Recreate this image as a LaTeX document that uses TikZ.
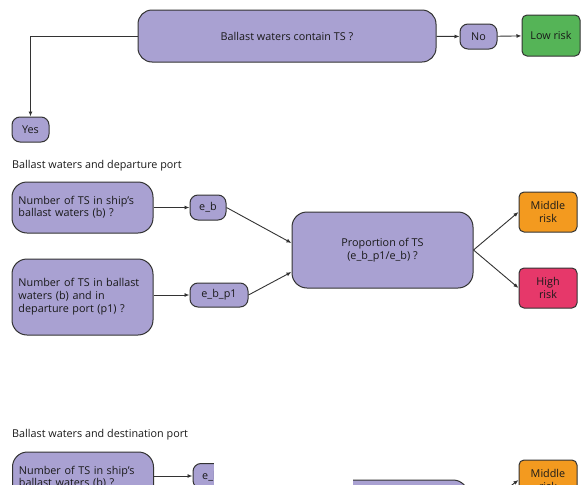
\documentclass[tikz,border=0pt]{standalone}
\usepackage{fontspec}
\setmainfont{Open Sans}
\usetikzlibrary{arrows.meta}
\definecolor{purp}{HTML}{A9A1D2}
\definecolor{grn}{HTML}{55B457}
\definecolor{org}{HTML}{F39A1F}
\definecolor{pnk}{HTML}{E6386A}
\definecolor{edge}{HTML}{333333}
\begin{document}
\begin{tikzpicture}[x=1pt,y=-1pt,
  box/.style={draw=edge,line width=1pt,fill=purp,rounded corners=#1,inner sep=0pt,font=\fontsize{10.8}{13}\selectfont,text=black!90},
  box/.default=8pt,
  conn/.style={draw=edge,line width=0.9pt,-{Latex[length=5pt,width=4pt]}},
  lbl/.style={anchor=west,inner sep=0pt,font=\fontsize{10.8}{13}\selectfont,text=black!90}]
\useasboundingbox (0,0) rectangle (582,485);
\clip (0,0) rectangle (582,485);
% top row
\node[box=14pt,minimum width=298pt,minimum height=52pt] (top) at (287,36) {Ballast waters contain TS ?};
\node[box=8pt,minimum width=37pt,minimum height=25pt] (no) at (478.5,36.5) {No};
\node[box=5pt,fill=grn,minimum width=58pt,minimum height=41pt] (low) at (551,35.5) {Low risk};
\node[box=8pt,minimum width=37pt,minimum height=25pt] (yes) at (30.5,129.5) {Yes};
\draw[conn] (top) -- (no);
\draw[conn] (no) -- (low);
\draw[conn] (top.west) -| (yes.north);
% section 1
\node[lbl] (s1) at (12,166) {Ballast waters and departure port};
\node[box=15pt,minimum width=141pt,minimum height=51pt,align=left,text width=128pt,font=\fontsize{10.8}{10}\selectfont] (b1) at (82.5,207.5) {Number of TS in ship's\\ballast waters (b) ?};
\node[box=15pt,minimum width=141pt,minimum height=76pt,align=left,text width=128pt] (b2) at (82.5,297) {Number of TS in ballast\\waters (b) and in\\departure port (p1) ?};
\node[box=8pt,minimum width=36pt,minimum height=25pt] (eb) at (208,207.5) {e\_b};
\node[box=8pt,minimum width=58pt,minimum height=24pt] (ebp) at (219,295) {e\_b\_p1};
\node[box=15pt,minimum width=181pt,minimum height=76pt,align=center] (prop) at (382.5,250) {Proportion of TS\\(e\_b\_p1/e\_b) ?};
\node[box=5pt,fill=org,minimum width=58pt,minimum height=40pt,align=center] (mid) at (548,212) {Middle\\risk};
\node[box=5pt,fill=pnk,minimum width=58pt,minimum height=40pt,align=center] (high) at (548,288) {High\\risk};
\draw[conn] (b1.east |- eb) -- (eb);
\draw[conn] (b2.east |- ebp) -- (ebp);
\draw[conn] (eb.east) -- (prop.west |- 0,243);
\draw[conn] (ebp.east) -- (prop.west |- 0,272);
\draw[conn] (prop.east) -- (mid.west);
\draw[conn] (prop.east) -- (high.west);
% section 2
\node[lbl] (s2) at (12,435) {Ballast waters and destination port};
\node[box=15pt,minimum width=141pt,minimum height=51pt,align=left,text width=128pt,font=\fontsize{10.8}{10}\selectfont] (b3) at (83,477.5) {Number of TS in ship's\\ballast waters (b) ?};
\node[box=8pt,minimum width=36pt,minimum height=25pt] (eb2) at (211,476) {e\_b};
\node[box=15pt,minimum width=176pt,minimum height=76pt] (prop2) at (380,518) {};
\node[box=5pt,fill=org,minimum width=58pt,minimum height=40pt,align=center] (mid2) at (548,480) {Middle\\risk};
\draw[conn] (b3.east |- eb2) -- (eb2);
\draw[conn] (prop2.east) -- (mid2.west);
\fill[white] (214,455) rectangle (353,486);
\end{tikzpicture}
\end{document}
